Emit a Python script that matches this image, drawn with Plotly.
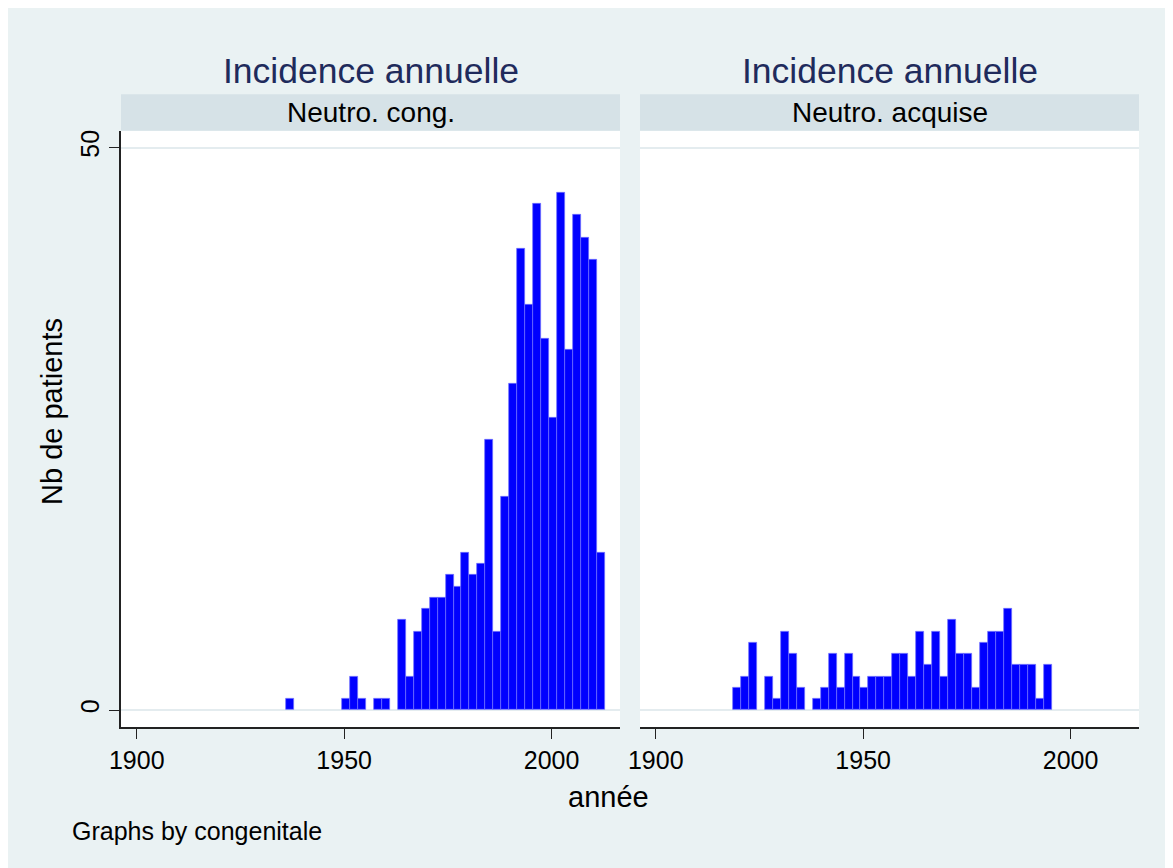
import plotly.graph_objects as go

# ---- data ----
panel_titles = ["Incidence annuelle", "Incidence annuelle"]
strip_labels = ["Neutro. cong.", "Neutro. acquise"]
bin_width = 1.922
bin_start_cong = 1936.0
bin_start_acq = 1918.6
counts_cong = [1, 0, 0, 0, 0, 0, 0, 1, 3, 1,
               0, 1, 1, 0, 8, 3, 7, 9, 10, 10,
               12, 11, 14, 12, 13, 24, 7, 19, 29, 41,
               36, 45, 33, 26, 46, 32, 44, 42, 40, 14]
counts_acq = [2, 3, 6, 0, 3, 1, 7, 5, 2, 0,
              1, 2, 5, 2, 5, 3, 2, 3, 3, 3,
              5, 5, 3, 7, 4, 7, 3, 8, 5, 5,
              2, 6, 7, 7, 9, 4, 4, 4, 1, 4]
x_ticks = [1900, 1950, 2000]
y_ticks = [0, 50]
x_title = "année"
y_title = "Nb de patients"
note = "Graphs by congenitale"

# ---- layout geometry (page pixels; the page body adds an 8px margin) ----
OFF = 8
W, H = 1173 - OFF, 868 - OFF
ML, MR, MT, MB = 121 - OFF, 34, 95 - OFF, 868 - 727
PW, PH = W - ML - MR, H - MT - MB
plot_top_px = 130.7


def px_x(px):
    return (px - OFF - ML) / PW


def px_y(py):
    return 1 - (py - OFF - MT) / PH


ytop = px_y(plot_top_px)
gap_l = px_x(620)
gap_r = px_x(640)

BG = "rgb(234,242,243)"
STRIP = "rgb(214,226,231)"
GRID = "rgb(228,236,239)"
TITLE_C = "#1f2b5c"
FONT = "Liberation Sans, Arial, Helvetica, sans-serif"

fig = go.Figure()

panels = [
    (counts_cong, bin_start_cong, "x", "y"),
    (counts_acq, bin_start_acq, "x2", "y2"),
]
for counts, start, xa, ya in panels:
    centers = [start + bin_width * (i + 0.5) for i in range(len(counts))]
    heights = [c if c > 0 else None for c in counts]
    fig.add_trace(go.Bar(
        x=centers, y=heights, width=[bin_width] * len(counts),
        xaxis=xa, yaxis=ya,
        marker=dict(color="#0000ff", line=dict(color="#7070ff", width=0.7)),
        showlegend=False,
    ))

xcommon = dict(range=[1896.2, 2016.5], tickvals=x_ticks, ticks="outside",
               ticklen=10, tickwidth=1.3, tickcolor="#222", showline=True,
               linecolor="#222", linewidth=1.5, showgrid=False, zeroline=False,
               tickfont=dict(family=FONT, size=25, color="#000"))
ycommon = dict(range=[-1.5, 51.5], tickvals=y_ticks, showgrid=True,
               gridcolor=GRID, gridwidth=2, zeroline=False, domain=[0, ytop])

fig.update_layout(
    width=W, height=H,
    margin=dict(l=ML, r=MR, t=MT, b=MB),
    paper_bgcolor=BG, plot_bgcolor="white",
    bargap=0,
    xaxis=dict(domain=[0, gap_l], anchor="y", **xcommon),
    xaxis2=dict(domain=[gap_r, 1], anchor="y2", **xcommon),
    yaxis=dict(anchor="x", ticks="outside", ticklen=10, tickwidth=1.3,
               tickcolor="#222", showline=True, linecolor="#222", linewidth=1.5,
               tickangle=-90, tickfont=dict(family=FONT, size=25, color="#000"),
               **ycommon),
    yaxis2=dict(anchor="x2", showticklabels=False, ticks="", showline=False,
                **ycommon),
    font=dict(family=FONT),
)

shapes = []
annotations = []
panel_px = [(121, 620), (640, 1139)]
for (x0, x1), ttl, strip in zip(panel_px, panel_titles, strip_labels):
    shapes.append(dict(type="rect", xref="paper", yref="paper",
                       x0=px_x(x0), x1=px_x(x1), y0=ytop, y1=px_y(94.3),
                       fillcolor=STRIP, line=dict(width=0), layer="below"))
    cx = px_x((x0 + x1) / 2)
    annotations.append(dict(text=strip, xref="paper", yref="paper", x=cx,
                            y=px_y(112.5), xanchor="center", yanchor="middle",
                            showarrow=False,
                            font=dict(family=FONT, size=28, color="#000")))
    annotations.append(dict(text=ttl, xref="paper", yref="paper", x=cx,
                            y=px_y(71), xanchor="center", yanchor="middle",
                            showarrow=False,
                            font=dict(family=FONT, size=35.5, color=TITLE_C)))

annotations.append(dict(text=x_title, xref="paper", yref="paper", x=px_x(608),
                        y=px_y(797), xanchor="center", yanchor="middle",
                        showarrow=False,
                        font=dict(family=FONT, size=29, color="#000")))
annotations.append(dict(text=y_title, xref="paper", yref="paper", x=px_x(52),
                        y=px_y(412), xanchor="center", yanchor="middle",
                        textangle=-90, showarrow=False,
                        font=dict(family=FONT, size=29, color="#000")))
annotations.append(dict(text=note, xref="paper", yref="paper", x=px_x(70),
                        y=px_y(831), xanchor="left", yanchor="middle",
                        showarrow=False,
                        font=dict(family=FONT, size=25, color="#000")))

fig.update_layout(shapes=shapes, annotations=annotations)
fig.write_html("out.html")
